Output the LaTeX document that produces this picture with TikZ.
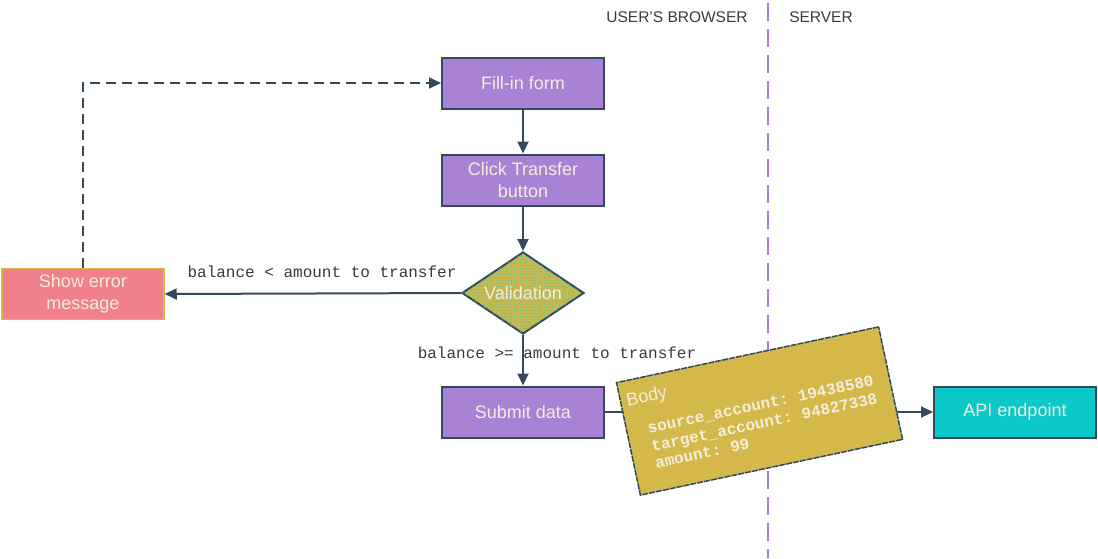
\documentclass[tikz,border=0pt]{standalone}
\usepackage{fontspec}
\setmainfont{Liberation Sans}
\setmonofont{Liberation Mono}
\usetikzlibrary{arrows.meta,shapes.geometric,patterns}
\definecolor{edgec}{HTML}{34495E}
\definecolor{purp}{HTML}{A882D4}
\definecolor{cream}{HTML}{F5EEDC}
\definecolor{pinkc}{HTML}{F17F8C}
\definecolor{goldc}{HTML}{D4B84A}
\definecolor{tealc}{HTML}{0BC9C9}
\definecolor{linep}{HTML}{A57FD8}
\definecolor{txtc}{HTML}{3A3A3A}
\tikzset{
  box/.style={rectangle, draw=edgec, line width=2pt, minimum width=162pt, minimum height=51pt,
    inner sep=0pt, align=center, text=cream, font=\fontsize{18}{22}\selectfont},
  proc/.style={box, fill=purp},
  arr/.style={draw=edgec, line width=2pt, -{Triangle[length=12pt,width=11pt]}},
  dashline/.style={dash pattern=on 10pt off 6pt},
  lbl/.style={text=txtc, font=\ttfamily\fontsize{16}{19}\selectfont, inner sep=0pt},
  hdr/.style={text=txtc, font=\fontsize{15.5}{18}\selectfont, inner sep=0pt},
  notetxt/.style={text=cream, font=\ttfamily\bfseries\fontsize{16}{18}\selectfont, inner sep=0pt, anchor=base west},
}
\begin{document}
\begin{tikzpicture}[x=1pt,y=-1pt]
\useasboundingbox (0,0) rectangle (1098,558);
% swimlane divider
\draw[linep, line width=2.2pt, dash pattern=on 18pt off 8pt] (768,3) -- (768,558);
\node[hdr] (hbrowser) at (677,17) {USER'S BROWSER};
\node[hdr] (hserver) at (821,17) {SERVER};

\node[proc] (fill) at (523,83) {Fill-in form};
\node[proc] (click) at (523,180) {Click Transfer\\button};
\node[diamond, draw=edgec, line width=2pt, fill=goldc, postaction={pattern=crosshatch dots, pattern color=tealc!80!goldc},
  minimum width=122pt, minimum height=82pt, aspect=1.49, inner sep=0pt,
  text=cream, font=\fontsize{18}{22}\selectfont] (valid) at (523,293) {Validation};
\node[box, fill=pinkc, draw=goldc, line width=1.5pt] (err) at (83,294) {Show error\\message};
\node[proc] (submit) at (523,412) {Submit data};
\node[box, fill=tealc] (api) at (1015,412) {API endpoint};

\draw[arr] (fill) -- (click);
\draw[arr] (click) -- (valid);
\draw[arr] (valid.west) -- (err.east);
\draw[arr] (valid.south) -- (submit.north);
\draw[arr, dashline] (err.north) |- (fill.west);
\draw[arr] (submit) -- (api);

\node[lbl] (l1) at (322,272) {balance < amount to transfer};
\node[lbl] (l2) at (557,353) {balance >= amount to transfer};

% body note
\begin{scope}[shift={(759.5,411)}, rotate=12, transform shape]
\node[rectangle, fill=goldc, draw=edgec, line width=1.5pt, dash pattern=on 6pt off 1pt,
  minimum width=268pt, minimum height=115pt, inner sep=0pt] (note) at (0,0) {};
\node[anchor=base west, text=cream, inner sep=0pt, font=\fontsize{18}{21}\selectfont] (nbody) at (-128,-32) {Body};
\node[notetxt] (n1) at (-113,-1) {source\_account: 19438580};
\node[notetxt] (n2) at (-113,17) {target\_account: 94827338};
\node[notetxt] (n3) at (-113,35) {amount: 99};
\end{scope}
\end{tikzpicture}
\end{document}
